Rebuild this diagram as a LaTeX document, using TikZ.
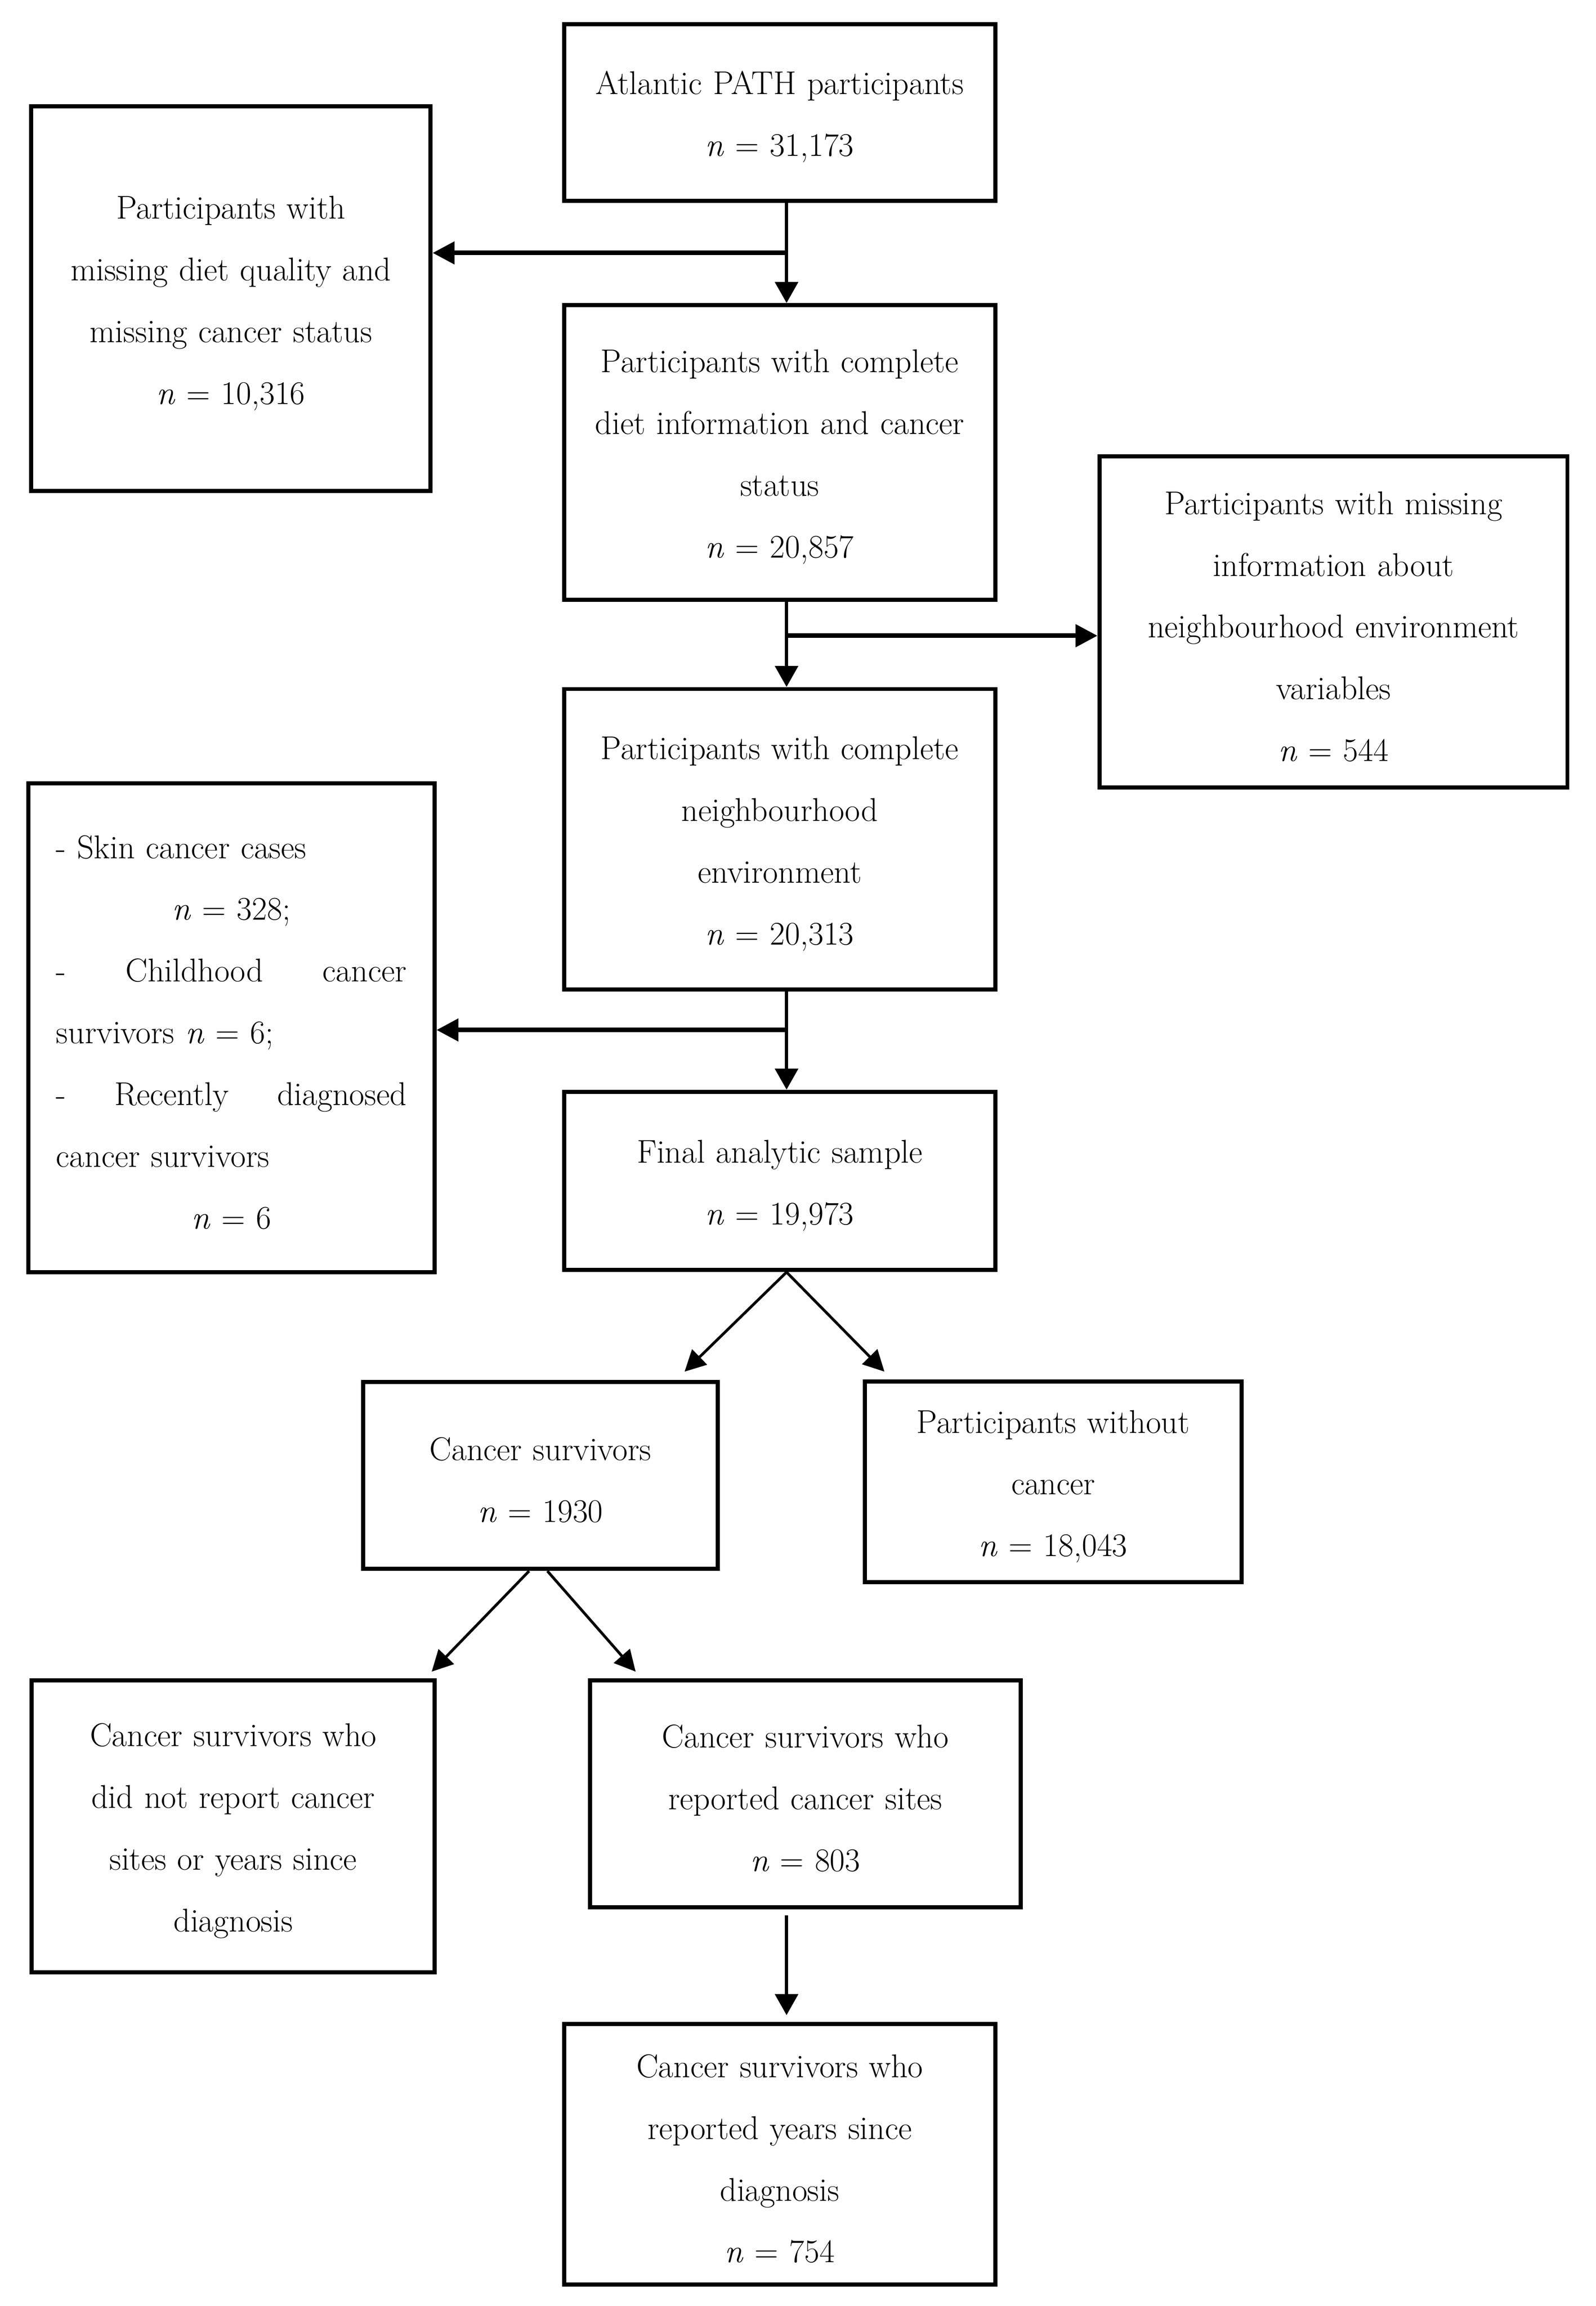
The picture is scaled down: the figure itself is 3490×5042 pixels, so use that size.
\documentclass[tikz,border=0pt]{standalone}
\usetikzlibrary{arrows.meta,calc}
\begin{document}
\begin{tikzpicture}[x=0.1mm,y=-0.1mm,
  flowbox/.style={draw, line width=0.9mm, inner sep=0pt, align=center,
    font=\fontsize{20.5pt}{38.4pt}\selectfont,
    execute at begin node={\rule{0pt}{20pt}}},
  arr/.style={line width=0.7mm, -{Triangle[length=4.6mm,width=5mm]}},
  brn/.style={line width=1mm, -{Triangle[length=4.8mm,width=4.8mm]}},
  diag/.style={line width=0.6mm, -{Triangle[length=4.6mm,width=4.6mm]}}]
\useasboundingbox (0,0) rectangle (3490,5042);

\node[flowbox, minimum width=94.3mm, minimum height=38.7mm, text width=92mm] (b1) at (1705,246)
  {Atlantic PATH participants\\ \textit{n} = 31,173};
\node[flowbox, minimum width=87.3mm, minimum height=84.1mm, text width=86mm] (b2) at (505,653)
  {Participants with\\ missing diet quality and\\ missing cancer status\\ \textit{n} = 10,316};
\node[flowbox, minimum width=94.3mm, minimum height=64.4mm, text width=92mm] (b3) at (1705,989)
  {Participants with complete\\ diet information and cancer\\ status\\ \textit{n} = 20,857};
\node[flowbox, minimum width=102.3mm, minimum height=72.4mm, text width=100mm] (b4) at (2916,1360)
  {Participants with missing\\ information about\\ neighbourhood environment\\ variables\\ \textit{n} = 544};
\node[flowbox, minimum width=94.3mm, minimum height=65.7mm, text width=92mm] (b5) at (1705,1835)
  {Participants with complete\\ neighbourhood\\ environment\\ \textit{n} = 20,313};
\node[flowbox, minimum width=88.8mm, minimum height=106.9mm, text width=76.6mm, align=left] (b6) at (506,2247)
  {\makebox[76.6mm][l]{- Skin cancer cases}\\
   \makebox[76.6mm][c]{\textit{n} = 328;}\\
   \makebox[76.6mm][s]{-\hfill Childhood\hfill cancer}\\
   \makebox[76.6mm][l]{survivors \textit{n} = 6;}\\
   \makebox[76.6mm][s]{-\hfill Recently\hfill diagnosed}\\
   \makebox[76.6mm][l]{cancer survivors}\\
   \makebox[76.6mm][c]{\textit{n} = 6}};
\node[flowbox, minimum width=94.3mm, minimum height=39mm, text width=92mm] (b7) at (1705,2582)
  {Final analytic sample\\ \textit{n} = 19,973};
\node[flowbox, minimum width=77.5mm, minimum height=40.9mm, text width=76mm] (b8) at (1182,3226)
  {Cancer survivors\\ \textit{n} = 1930};
\node[flowbox, minimum width=82.4mm, minimum height=43.8mm, text width=80mm] (b9) at (2303,3240)
  {Participants without\\ cancer\\ \textit{n} = 18,043};
\node[flowbox, minimum width=88.1mm, minimum height=63.8mm, text width=86mm] (b10) at (510,3993)
  {Cancer survivors who\\ did not report cancer\\ sites or years since\\ diagnosis};
\node[flowbox, minimum width=94.2mm, minimum height=49.6mm, text width=92mm] (b11) at (1761,3922)
  {Cancer survivors who\\ reported cancer sites\\ \textit{n} = 803};
\node[flowbox, minimum width=94.3mm, minimum height=57mm, text width=92mm] (b12) at (1705,4710)
  {Cancer survivors who\\ reported years since\\ diagnosis\\ \textit{n} = 754};

% main vertical arrows
\draw[arr] ($(b1.south)+(15,0)$) -- ($(b3.north)+(15,0)$);
\draw[arr] ($(b3.south)+(15,0)$) -- ($(b5.north)+(15,0)$);
\draw[arr] ($(b5.south)+(15,0)$) -- ($(b7.north)+(15,0)$);

% branches
\coordinate (j1) at (1720,553);
\coordinate (j2) at (1720,1390);
\coordinate (j3) at (1720,2252);
\draw[brn] (j1) -- (j1 -| b2.east);
\draw[brn] (j2) -- (j2 -| b4.west);
\draw[brn] (j3) -- (j3 -| b6.east);

% split from final sample
\coordinate (t1) at (1497,2999);
\coordinate (t2) at (1934,2999);
\draw[diag] ($(b7.south)+(15,0)$) -- (t1);
\draw[diag] ($(b7.south)+(15,0)$) -- (t2);

% split from cancer survivors
\coordinate (t3) at (944,3655);
\coordinate (t4) at (1390,3655);
\draw[diag] ($(b8.south)+(-25,0)$) -- (t3);
\draw[diag] ($(b8.south)+(15,0)$) -- (t4);

% sites -> years
\coordinate (s1) at (1720,4188);
\coordinate (t5) at (1720,4406);
\draw[arr] (s1) -- (t5);
\end{tikzpicture}
\end{document}
